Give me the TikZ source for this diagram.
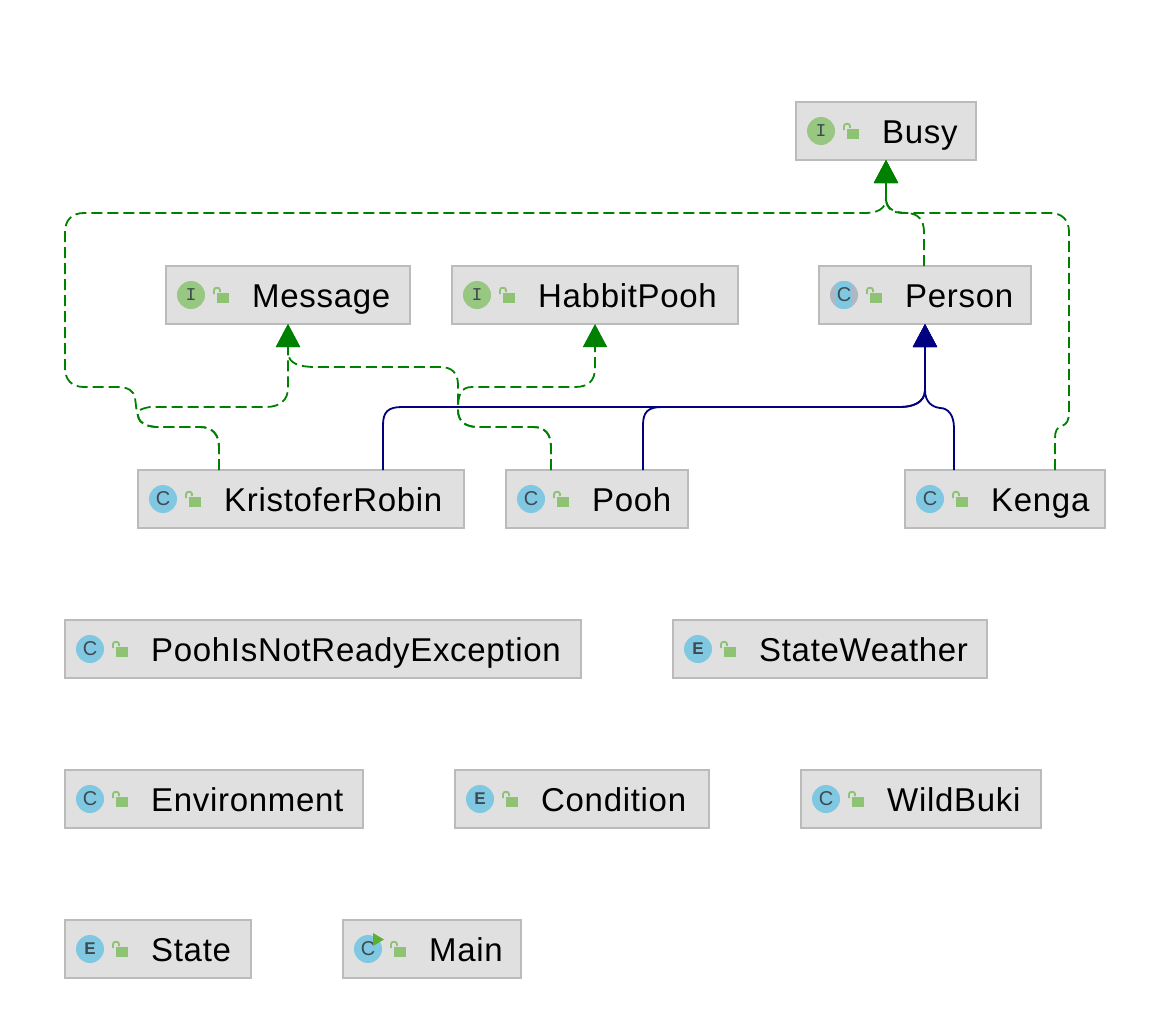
\documentclass[tikz,border=0pt]{standalone}
\usepackage{fontspec}
\setmainfont[LetterSpace=2.1]{Liberation Sans}
\newfontfamily\iconmono{Liberation Mono}
\newfontfamily\iconsans{Liberation Sans}
\usetikzlibrary{arrows.meta}

\definecolor{boxfill}{HTML}{E0E0E0}
\definecolor{boxline}{HTML}{BBBBBB}
\definecolor{ifacegreen}{HTML}{98C782}
\definecolor{classblue}{HTML}{80C8E2}
\definecolor{absgray}{HTML}{AEB7C2}
\definecolor{lockgreen}{HTML}{8DC373}
\definecolor{icontext}{HTML}{3E4A50}
\definecolor{rungreen}{HTML}{5BB030}
\definecolor{implgreen}{HTML}{008000}
\definecolor{extblue}{HTML}{000080}

\tikzset{
	umlbox/.style={draw=boxline, fill=boxfill, line width=2, minimum height=58, inner sep=0, anchor=north west, outer sep=0},
	umllabel/.style={anchor=base west, inner sep=0, font=\fontsize{33}{33}\selectfont},
	iconbase/.style={circle, minimum size=28, inner sep=0, text=icontext},
	iconI/.style={iconbase, fill=ifacegreen, font=\iconmono\fontsize{18}{18}\selectfont},
	iconC/.style={iconbase, fill=classblue, font=\iconsans\fontsize{20}{20}\selectfont},
	iconE/.style={iconbase, fill=classblue, font=\iconsans\bfseries\fontsize{17}{17}\selectfont},
	iconA/.style={iconbase, fill=absgray, font=\iconsans\fontsize{20}{20}\selectfont, path picture={
		\fill[classblue] ([xshift=-8]path picture bounding box.south) rectangle ([xshift=8]path picture bounding box.north);}},
	impl/.style={implgreen, line width=1.8, dash pattern=on 11 off 5, -{Triangle[length=23, width=24]}},
	ext/.style={extblue, line width=1.8, -{Triangle[length=23, width=24]}},
}

% name, x, y, width, icon style, letter, label
\newcommand{\classbox}[7]{
	\node [umlbox, minimum width=#4] (#1) at (#2, #3) {};
	\node [#5] (#1 icon) at ([xshift=25]#1.west) {#6};
	\node [umllabel] (#1 label) at ([xshift=86, yshift=-12]#1.west) {#7};
	\fill [lockgreen] ([xshift=51, yshift=-8]#1.west) rectangle ([xshift=63, yshift=2]#1.west);
	\draw [lockgreen, line width=1.8] ([xshift=48, yshift=1]#1.west) -- ([xshift=48, yshift=5]#1.west)
		.. controls ([xshift=48, yshift=8]#1.west) and ([xshift=54, yshift=8]#1.west) .. ([xshift=54, yshift=5]#1.west) -- ([xshift=54, yshift=3]#1.west);
}

\begin{document}
\begin{tikzpicture}[x=1pt, y=-1pt]
		\useasboundingbox (0, 0) rectangle (1170, 1028);

		\classbox{busy}{796}{102}{180}{iconI}{I}{Busy}
		\classbox{message}{166}{266}{244}{iconI}{I}{Message}
		\classbox{habbit}{452}{266}{286}{iconI}{I}{HabbitPooh}
		\classbox{person}{819}{266}{212}{iconA}{C}{Person}
		\classbox{robin}{138}{470}{326}{iconC}{C}{KristoferRobin}
		\classbox{pooh}{506}{470}{182}{iconC}{C}{Pooh}
		\classbox{kenga}{905}{470}{200}{iconC}{C}{Kenga}
		\classbox{exception}{65}{620}{516}{iconC}{C}{PoohIsNotReadyException}
		\classbox{weather}{673}{620}{314}{iconE}{E}{StateWeather}
		\classbox{environment}{65}{770}{298}{iconC}{C}{Environment}
		\classbox{condition}{455}{770}{254}{iconE}{E}{Condition}
		\classbox{wildbuki}{801}{770}{240}{iconC}{C}{WildBuki}
		\classbox{state}{65}{920}{186}{iconE}{E}{State}
		\classbox{main}{343}{920}{178}{iconC}{C}{Main}

		\fill [rungreen] ([xshift=5, yshift=16]main icon.center) -- ([xshift=16, yshift=9.5]main icon.center) -- ([xshift=5, yshift=3]main icon.center) -- cycle;

		\draw [ext] ([xshift=82]robin.north) -- (383, 425) .. controls (383, 412) and (388, 407) .. (402, 407) -- (900, 407) .. controls (912, 407) and (925, 403) .. (925, 390) -- (person.south);
		\draw [ext] ([xshift=46]pooh.north) -- (643, 425) .. controls (643, 412) and (648, 407) .. (662, 407) -- (900, 407) .. controls (912, 407) and (925, 403) .. (925, 390) -- (person.south);
		\draw [ext] ([xshift=-51]kenga.north) -- (954, 428) .. controls (954, 415) and (948, 408) .. (940, 408) .. controls (932, 407) and (925, 402) .. (925, 390) -- (person.south);

		\draw [impl] ([xshift=-82]robin.north) -- (219, 447) .. controls (219, 434) and (212, 427) .. (200, 427) -- (156, 427) .. controls (146, 426) and (140, 424) .. (138, 416) .. controls (136, 410) and (136, 404) .. (135, 398) .. controls (134, 391) and (128, 387) .. (118, 387) -- (84, 387) .. controls (72, 387) and (65, 380) .. (65, 368) -- (65, 232) .. controls (65, 220) and (72, 213) .. (84, 213) -- (864, 213) .. controls (876, 213) and (886, 210) .. (886, 198) -- (busy.south);
		\draw [impl] ([xshift=-82]robin.north) -- (219, 447) .. controls (219, 434) and (212, 427) .. (200, 427) -- (156, 427) .. controls (146, 426) and (140, 424) .. (138, 416) .. controls (137, 412) and (138, 409) .. (150, 407) -- (266, 407) .. controls (280, 407) and (288, 400) .. (288, 388) -- (message.south);
		\draw [impl] ([xshift=-1]person.north) -- (924, 232) .. controls (924, 220) and (918, 213) .. (906, 213) -- (904, 213) .. controls (894, 213) and (886, 210) .. (886, 198) -- (busy.south);
		\draw [impl] ([xshift=50]kenga.north) -- (1055, 438) .. controls (1055, 431) and (1057, 427) .. (1062, 426) .. controls (1067, 424) and (1069, 420) .. (1069, 412) -- (1069, 232) .. controls (1069, 220) and (1062, 213) .. (1050, 213) -- (908, 213) .. controls (896, 213) and (886, 210) .. (886, 198) -- (busy.south);
		\draw [impl] ([xshift=-46]pooh.north) -- (551, 447) .. controls (551, 434) and (545, 427) .. (533, 427) -- (478, 427) .. controls (466, 427) and (458, 422) .. (458, 410) -- (458, 385) .. controls (458, 373) and (452, 367) .. (440, 367) -- (316, 367) .. controls (300, 367) and (288, 364) .. (288, 352) -- (message.south);
		\draw [impl] ([xshift=-46]pooh.north) -- (551, 447) .. controls (551, 434) and (545, 427) .. (533, 427) -- (478, 427) .. controls (466, 427) and (458, 422) .. (458, 410) .. controls (458, 396) and (460, 387) .. (472, 387) -- (575, 387) .. controls (588, 387) and (595, 381) .. (595, 368) -- (habbit.south);
	\end{tikzpicture}
\end{document}
